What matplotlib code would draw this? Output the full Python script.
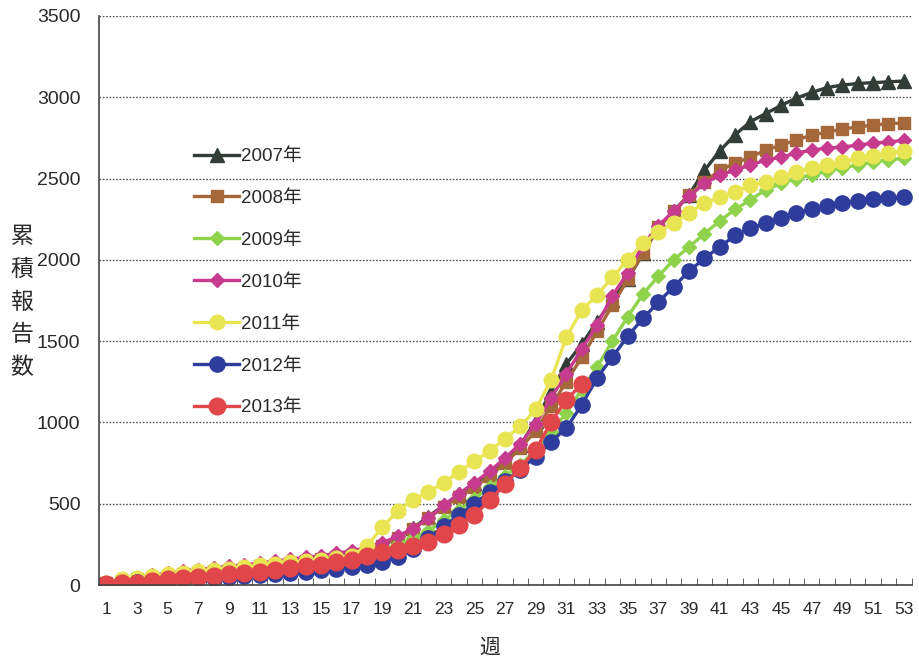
import matplotlib
matplotlib.use("Agg")
import matplotlib.pyplot as plt
import numpy as np

plt.rcParams['font.family'] = ['Liberation Sans', 'Noto Sans CJK JP', 'DejaVu Sans']

# 週ごとの累積報告数（2007〜2013年）
weeks = np.arange(1, 54)

y2007 = [15, 30, 40, 50, 60, 70, 80, 90, 100, 110, 120, 130, 140, 150, 165, 180, 195,
         215, 250, 295, 350, 420, 490, 560, 625, 690, 770, 860, 1010,
         1190, 1360, 1480, 1620, 1750, 1880, 2040, 2200, 2300, 2400, 2550, 2670,
         2770, 2850, 2900, 2950, 2995, 3030, 3060, 3075, 3085, 3090, 3095, 3100]
y2008 = [10, 25, 35, 45, 55, 65, 75, 85, 95, 105, 115, 125, 135, 145, 160, 175, 185,
         205, 240, 290, 345, 410, 480, 540, 600, 670, 750, 840, 950,
         1100, 1250, 1400, 1560, 1720, 1880, 2040, 2200, 2300, 2400, 2480, 2550,
         2595, 2632, 2675, 2706, 2737, 2768, 2786, 2805, 2817, 2829, 2838, 2842]
y2009 = [10, 25, 35, 45, 55, 65, 75, 85, 95, 105, 115, 125, 135, 145, 155, 165, 175,
         190, 215, 250, 290, 330, 400, 460, 530, 600, 670, 740, 830,
         940, 1060, 1200, 1340, 1500, 1650, 1790, 1900, 2000, 2080, 2160, 2240,
         2310, 2370, 2430, 2470, 2500, 2525, 2545, 2565, 2585, 2600, 2615, 2625]
y2010 = [15, 30, 45, 60, 75, 85, 95, 105, 115, 125, 135, 145, 160, 170, 180, 195, 210,
         230, 260, 300, 345, 410, 490, 560, 630, 700, 780, 870, 990,
         1150, 1300, 1450, 1600, 1780, 1920, 2090, 2210, 2300, 2390, 2470, 2520,
         2552, 2583, 2614, 2632, 2657, 2675, 2688, 2694, 2706, 2718, 2725, 2735]
y2011 = [15, 35, 45, 55, 65, 75, 85, 95, 100, 110, 120, 130, 140, 145, 155, 165, 180,
         240, 355, 455, 525, 570, 630, 695, 760, 825, 900, 975, 1080,
         1260, 1525, 1690, 1783, 1894, 1999, 2103, 2171, 2226, 2288, 2349, 2386,
         2417, 2460, 2478, 2509, 2540, 2565, 2583, 2601, 2626, 2638, 2657, 2670]
y2012 = [0, 10, 20, 25, 30, 35, 40, 45, 50, 55, 60, 65, 75, 80, 90, 100, 110,
         120, 140, 170, 220, 290, 360, 430, 500, 570, 640, 710, 790,
         880, 966, 1107, 1273, 1402, 1530, 1640, 1740, 1835, 1930, 2010, 2080,
         2150, 2195, 2226, 2257, 2288, 2312, 2331, 2349, 2360, 2372, 2380, 2385]
y2013 = [5, 10, 15, 25, 35, 45, 50, 55, 65, 75, 80, 90, 105, 115, 125, 140, 155,
         180, 200, 215, 240, 265, 315, 370, 430, 520, 620, 720, 830,
         1000, 1140, 1235]

series = [
    ("2007年", y2007, "#333d38", "^", 9.5),
    ("2008年", y2008, "#a5683a", "s", 8),
    ("2009年", y2009, "#8fd24c", "D", 7),
    ("2010年", y2010, "#c73b8f", "D", 7.5),
    ("2011年", y2011, "#e8e452", "o", 10.5),
    ("2012年", y2012, "#2e3d9c", "o", 11),
    ("2013年", y2013, "#e0464a", "o", 12),
]

fig = plt.figure(figsize=(9.19, 6.59), dpi=100)
ax = fig.add_axes([98.5 / 919, 1 - 585 / 659, 813 / 919, 569 / 659])

for label, vals, color, marker, ms in series:
    ax.plot(weeks[:len(vals)], vals, color=color, lw=2.4, marker=marker,
            markersize=ms, markeredgecolor=color, label=label)

ax.set_xlim(0.5, 53.5)
ax.set_ylim(0, 3500)
ax.set_yticks(np.arange(0, 3501, 500))
ax.yaxis.grid(True, linestyle=(0, (1.2, 1.2)), color="#555555", lw=1.0)
ax.set_axisbelow(True)

ax.set_xticks(np.arange(1, 54, 2))
ax.set_xticks(np.arange(0.5, 54, 1), minor=True)
ax.tick_params(axis="x", which="major", length=0, pad=12, labelsize=12.5, labelcolor="#2a2a2a")
ax.tick_params(axis="x", which="minor", length=5, direction="in", color="#444444")
ax.tick_params(axis="y", length=0, pad=13, labelsize=14, labelcolor="#2a2a2a")

for side in ("top", "right"):
    ax.spines[side].set_visible(False)
for side in ("left", "bottom"):
    ax.spines[side].set_color("#444444")
    ax.spines[side].set_linewidth(1.2)

fig.text(490 / 919, 1 - 648 / 659, "週", ha="center", va="center",
         fontsize=15, color="#2a2a2a")
fig.text(22 / 919, 1 - 302 / 659, "累\n積\n報\n告\n数", ha="center", va="center",
         fontsize=16.5, color="#2a2a2a", linespacing=1.55)

ax.legend(loc="upper left", bbox_to_anchor=(0.118, 0.768), frameon=False,
          fontsize=13.5, handlelength=2.4, handletextpad=0.1, labelspacing=1.32,
          borderpad=0, borderaxespad=0, numpoints=1, labelcolor="#2a2a2a")

fig.savefig("out.png", dpi=100, facecolor="white")
